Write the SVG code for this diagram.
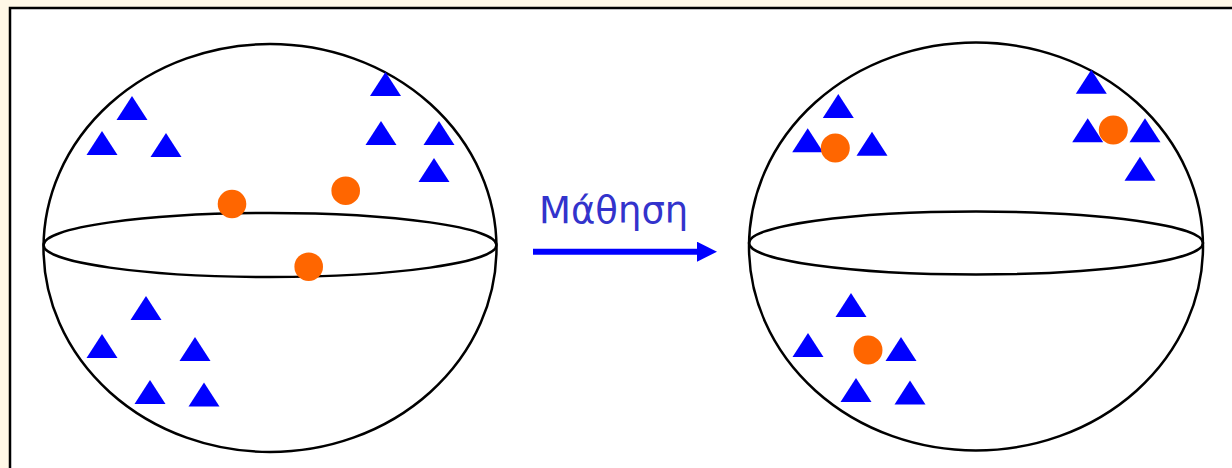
<svg xmlns="http://www.w3.org/2000/svg" width="1232" height="468" viewBox="0 0 1232 468">
<style>
.sph{fill:none;stroke:#000;stroke-width:2.5}
.tri{fill:#0000FF}
.dot{fill:#FF6600}
.lbl{font-family:"DejaVu Sans",Verdana,sans-serif;font-size:37px;fill:#3333CC}
</style>
<defs>
<polygon id="t" points="0,-12 15.5,12 -15.5,12"/>
<marker id="ah" markerWidth="20" markerHeight="20" refX="0" refY="10" markerUnits="userSpaceOnUse" orient="auto"><path d="M0,0 L20,10 L0,20 Z" fill="#0000FF"/></marker>
</defs>
<rect x="0" y="0" width="1232" height="468" fill="#FFF8E7"/>
<rect x="10" y="8" width="1240" height="480" fill="#FFFFFF" stroke="#000" stroke-width="2.5"/>
<g id="sphere-before">
<ellipse class="sph" cx="270" cy="248" rx="226.5" ry="204"/>
<ellipse class="sph" cx="270" cy="245" rx="226.5" ry="32"/>
<use href="#t" class="tri" x="132" y="108"/>
<use href="#t" class="tri" x="102" y="143"/>
<use href="#t" class="tri" x="166" y="145"/>
<use href="#t" class="tri" x="385.5" y="84"/>
<use href="#t" class="tri" x="381" y="133"/>
<use href="#t" class="tri" x="439" y="133"/>
<use href="#t" class="tri" x="434" y="170"/>
<use href="#t" class="tri" x="146" y="308"/>
<use href="#t" class="tri" x="102" y="346"/>
<use href="#t" class="tri" x="195" y="349"/>
<use href="#t" class="tri" x="150" y="392"/>
<use href="#t" class="tri" x="204" y="394.5"/>
<circle class="dot" cx="232" cy="204" r="14.3"/>
<circle class="dot" cx="345.7" cy="190.7" r="14.3"/>
<circle class="dot" cx="308.7" cy="266.7" r="14.3"/>
</g>
<g id="sphere-after">
<ellipse class="sph" cx="976" cy="246.5" rx="227" ry="204"/>
<ellipse class="sph" cx="976" cy="243" rx="227" ry="31.5"/>
<use href="#t" class="tri" x="838.3" y="106"/>
<use href="#t" class="tri" x="807.7" y="140.3"/>
<use href="#t" class="tri" x="872" y="143.7"/>
<circle class="dot" cx="835.3" cy="148" r="14.5"/>
<use href="#t" class="tri" x="1091.3" y="81.7"/>
<use href="#t" class="tri" x="1087.7" y="130.3"/>
<use href="#t" class="tri" x="1145" y="130.3"/>
<use href="#t" class="tri" x="1140" y="168.7"/>
<circle class="dot" cx="1113.3" cy="130" r="14.5"/>
<use href="#t" class="tri" x="851" y="305"/>
<use href="#t" class="tri" x="808" y="345"/>
<use href="#t" class="tri" x="901" y="349"/>
<use href="#t" class="tri" x="856" y="390"/>
<use href="#t" class="tri" x="910" y="392.5"/>
<circle class="dot" cx="868" cy="350" r="14.5"/>
</g>
<g id="connectors">
<line x1="533" y1="251.7" x2="697" y2="251.7" stroke="#0000FF" stroke-width="6" marker-end="url(#ah)"/>
<text class="lbl" x="539" y="223">Μάθηση</text>
</g>
</svg>
